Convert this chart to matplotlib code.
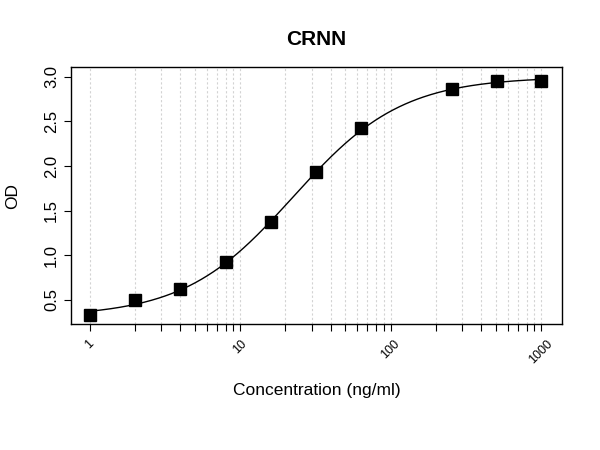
import numpy as np
import matplotlib
matplotlib.use("Agg")
import matplotlib.pyplot as plt
from matplotlib.ticker import FixedLocator, NullLocator, NullFormatter

plt.rcParams['font.family'] = ['Liberation Sans', 'DejaVu Sans']

conc = [1, 2, 4, 8, 16, 32, 64, 256, 512, 1000]
od = [0.33, 0.50, 0.62, 0.92, 1.37, 1.93, 2.43, 2.86, 2.95, 2.95]
x_labels = ['1', '10', '100', '1000']


def four_pl(x, a, b, c, d):
    return d + (a - d) / (1 + (x / c) ** b)


# crude 4PL fit by grid search
xs = np.array(conc, float)
ys = np.array(od, float)
A = np.linspace(0.15, 0.40, 26)[:, None, None, None, None]
B = np.linspace(0.8, 1.8, 41)[None, :, None, None, None]
C = np.linspace(12, 40, 57)[None, None, :, None, None]
D = np.linspace(2.85, 3.2, 36)[None, None, None, :, None]
pred = D + (A - D) / (1 + (xs / C) ** B)
err = ((pred - ys) ** 2).sum(axis=-1)
i = np.unravel_index(np.argmin(err), err.shape)
a, b, c, d = A.ravel()[i[0]], B.ravel()[i[1]], C.ravel()[i[2]], D.ravel()[i[3]]

xfit = np.logspace(0, 3, 300)
yfit = four_pl(xfit, a, b, c, d)

fig = plt.figure(figsize=(6, 4.5), dpi=100)
ax = fig.add_axes([0.118, 0.28, 0.819, 0.571])

grid_pos = [m * 10 ** e for e in range(3) for m in range(1, 10)] + [1000]
for g in grid_pos:
    ax.axvline(g, color='#d3d3d3', linestyle=(0, (2, 2)), linewidth=0.8, zorder=0)

ax.plot(xfit, yfit, color='black', linewidth=1.0, zorder=2)
ax.plot(conc, od, linestyle='none', marker='s', markersize=8.5, color='black', zorder=3)

ax.set_xscale('log')
ax.set_xlim(10 ** -0.125, 10 ** 3.14)
ax.set_ylim(0.23, 3.11)

ax.xaxis.set_major_locator(FixedLocator(grid_pos))
ax.xaxis.set_minor_locator(NullLocator())
ax.xaxis.set_minor_formatter(NullFormatter())
ax.set_xticklabels([str(g) if str(g) in x_labels else '' for g in grid_pos],
                   rotation=45, fontsize=9, ha='center', va='top')
ax.set_yticks([0.5, 1.0, 1.5, 2.0, 2.5, 3.0])
ax.set_yticklabels(['0.5', '1.0', '1.5', '2.0', '2.5', '3.0'],
                   rotation=90, va='center', fontsize=12)
ax.tick_params(direction='out', length=5, width=0.8, colors='black')
ax.tick_params(axis='x', pad=5)

for s in ax.spines.values():
    s.set_linewidth(1.0)

ax.set_title('CRNN', fontsize=15, fontweight='bold', pad=16)
ax.set_xlabel('Concentration (ng/ml)', fontsize=12.5, labelpad=12)
ax.set_ylabel('OD', fontsize=12.5, labelpad=17)

fig.savefig('out.png', dpi=100)
